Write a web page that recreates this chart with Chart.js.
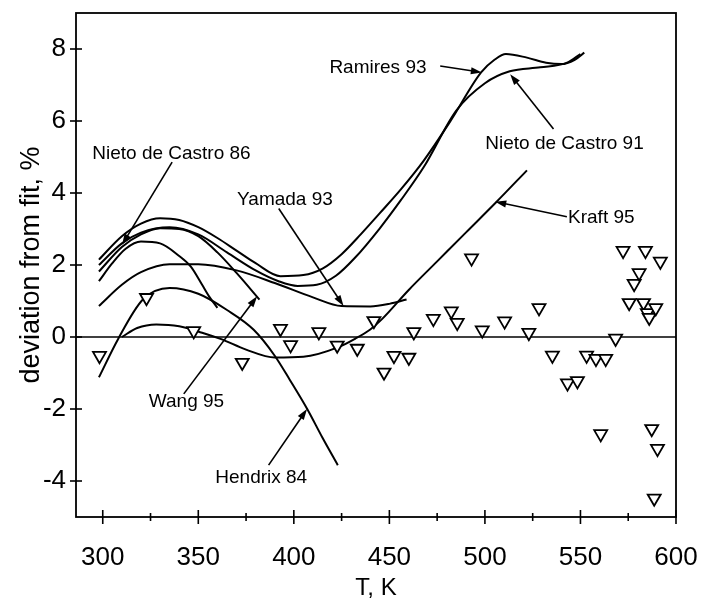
<!DOCTYPE html>
<html><head><meta charset="utf-8">
<script src="https://cdn.jsdelivr.net/npm/chart.js@4.4.1/dist/chart.umd.min.js"></script>
<style>html,body{margin:0;padding:0;background:#fff;}canvas{display:block;}</style>
</head><body>
<canvas id="c" width="702" height="601"></canvas>
<script>
// ---- data (T in K, deviation in %) ----
const xMajorTicks = [300, 350, 400, 450, 500, 550, 600];
const xMinorTicks = [325, 375, 425, 475, 525, 575];
const yTicks = [-4, -2, 0, 2, 4, 6, 8];

const ramiresT = [298, 310, 320, 330, 340, 350, 360, 370, 380, 393, 405, 415, 425, 435, 445, 456, 468, 482, 498, 505, 511, 522, 532, 540, 547, 552];
const ramiresY = [2.15, 2.8, 3.15, 3.3, 3.25, 3.05, 2.75, 2.4, 2.05, 1.69, 1.72, 1.9, 2.3, 2.85, 3.44, 4.1, 4.9, 6.0, 7.35, 7.7, 7.86, 7.76, 7.62, 7.58, 7.7, 7.9];

const nieto91T = [298, 310, 320, 335, 350, 365, 380, 392, 402, 412, 422, 432, 445, 456, 468, 485, 500, 513, 529, 543, 550];
const nieto91Y = [2.0, 2.6, 2.9, 3.05, 2.85, 2.35, 1.85, 1.55, 1.42, 1.45, 1.7, 2.2, 3.02, 3.8, 4.72, 6.29, 7.05, 7.38, 7.49, 7.62, 7.86];

const wang95T = [298, 310, 320, 330, 340, 350, 360, 370, 382];
const wang95Y = [1.82, 2.5, 2.85, 3.02, 3.0, 2.8, 2.35, 1.78, 1.04];

const nieto86T = [298, 305, 312, 320, 330, 340, 346, 352, 356, 360];
const nieto86Y = [1.55, 2.05, 2.45, 2.65, 2.6, 2.25, 1.96, 1.45, 1.1, 0.81];

const yamada93T = [298, 310, 320, 335, 350, 370, 390, 410, 425, 440, 450, 459];
const yamada93Y = [0.86, 1.45, 1.8, 2.02, 2.02, 1.85, 1.5, 1.1, 0.86, 0.85, 0.92, 1.04];

const hendrix84T = [298, 308, 321, 335, 350, 365, 379, 390, 398, 407, 415, 423];
const hendrix84Y = [-1.12, -0.06, 1.04, 1.36, 1.2, 0.75, 0.2, -0.52, -1.2, -2.0, -2.8, -3.56];

const kraft95T = [310, 318, 328, 340, 352, 362, 375, 390, 405, 423, 432, 440, 446, 460, 475, 490, 506, 522];
const kraft95Y = [0.0, 0.25, 0.35, 0.3, 0.12, -0.06, -0.35, -0.57, -0.55, -0.29, -0.05, 0.21, 0.49, 1.3, 2.1, 2.9, 3.75, 4.63];

const pointsT = [298.3, 322.9, 347.6, 373, 393, 398.3, 413.1, 422.7, 433.2, 441.9, 447.2, 452.4, 460.2, 462.8, 473, 482.4, 485.5, 493, 498.6, 510.3, 523, 528.3, 535.3, 543.2, 548.4, 553.2, 558.1, 560.6, 563.2, 568.4, 572.3, 575.5, 578.1, 580.7, 583, 584, 585, 586, 587.3, 588.6, 589.4, 590.3, 591.8];
const pointsY = [-0.52, 1.09, 0.17, -0.71, 0.23, -0.22, 0.14, -0.23, -0.32, 0.45, -0.98, -0.52, -0.57, 0.14, 0.51, 0.72, 0.4, 2.19, 0.19, 0.44, 0.12, 0.81, -0.51, -1.28, -1.22, -0.51, -0.6, -2.69, -0.6, -0.04, 2.4, 0.95, 1.48, 1.78, 0.95, 2.4, 0.67, 0.54, -2.55, -4.48, 0.81, -3.1, 2.1];

// labels with arrows: text anchor (left/middle), arrow tail, arrow tip — in data units
const labelText = ['Ramires 93', 'Nieto de Castro 91', 'Kraft 95', 'Nieto de Castro 86', 'Yamada 93', 'Wang 95', 'Hendrix 84'];
const labelAt = [[418.6, 7.49], [500.2, 5.37], [543.5, 3.30], [294.5, 5.09], [370.3, 3.82], [324.1, -1.80], [358.9, -3.91]];
const arrowFrom = [[476.6, 7.53], [535.9, 5.78], [542.9, 3.34], [336.3, 4.86], [392.1, 3.57], [342.4, -1.58], [386.8, -3.56]];
const arrowTo = [[498.4, 7.35], [513.2, 7.30], [505.4, 3.76], [310.1, 2.56], [426.0, 0.86], [380.8, 1.13], [406.9, -2.0]];

// ---- build ----
const zip = (xs, ys) => xs.map((x, i) => ({x: x, y: ys[i]}));
const curve = (label, xs, ys) => ({
  label: label, data: zip(xs, ys), showLine: true, borderColor: '#000', borderWidth: 2,
  pointRadius: 0, cubicInterpolationMode: 'monotone', fill: false, order: 2
});

const FONT = '"Liberation Sans", Arial, Helvetica, sans-serif';

const decor = {
  id: 'decor',
  beforeDatasetsDraw(chart) {
    const {ctx, chartArea: a, scales: {x, y}} = chart;
    ctx.save();
    ctx.strokeStyle = '#000';
    ctx.lineWidth = 1.6;
    const y0 = y.getPixelForValue(0);
    ctx.beginPath(); ctx.moveTo(a.left, y0); ctx.lineTo(a.right, y0); ctx.stroke();
    ctx.restore();
  },
  afterDatasetsDraw(chart) {
    const {ctx, chartArea: a, scales: {x, y}} = chart;
    ctx.save();
    ctx.strokeStyle = '#000';
    ctx.fillStyle = '#000';
    ctx.lineWidth = 1.8;
    ctx.strokeRect(a.left, a.top, a.right - a.left, a.bottom - a.top);
    ctx.lineWidth = 1.6;
    xMajorTicks.forEach(v => { const p = x.getPixelForValue(v); ctx.beginPath(); ctx.moveTo(p, a.bottom - 7); ctx.lineTo(p, a.bottom + 7); ctx.stroke(); });
    xMinorTicks.forEach(v => { const p = x.getPixelForValue(v); ctx.beginPath(); ctx.moveTo(p, a.bottom - 4); ctx.lineTo(p, a.bottom + 4); ctx.stroke(); });
    yTicks.forEach(v => { const p = y.getPixelForValue(v); ctx.beginPath(); ctx.moveTo(a.left - 6, p); ctx.lineTo(a.left + 6, p); ctx.stroke(); });
    ctx.font = '19px ' + FONT;
    ctx.textAlign = 'left';
    ctx.textBaseline = 'middle';
    labelText.forEach((t, i) => {
      ctx.fillText(t, x.getPixelForValue(labelAt[i][0]), y.getPixelForValue(labelAt[i][1]));
      const x1 = x.getPixelForValue(arrowFrom[i][0]), y1 = y.getPixelForValue(arrowFrom[i][1]);
      const x2 = x.getPixelForValue(arrowTo[i][0]), y2 = y.getPixelForValue(arrowTo[i][1]);
      const ang = Math.atan2(y2 - y1, x2 - x1);
      const L = 11, W = 3.6;
      ctx.lineWidth = 1.6;
      ctx.beginPath(); ctx.moveTo(x1, y1);
      ctx.lineTo(x2 - Math.cos(ang) * (L - 2), y2 - Math.sin(ang) * (L - 2)); ctx.stroke();
      ctx.beginPath();
      ctx.moveTo(x2, y2);
      ctx.lineTo(x2 - Math.cos(ang) * L - Math.sin(ang) * W, y2 - Math.sin(ang) * L + Math.cos(ang) * W);
      ctx.lineTo(x2 - Math.cos(ang) * L + Math.sin(ang) * W, y2 - Math.sin(ang) * L - Math.cos(ang) * W);
      ctx.closePath(); ctx.fill();
    });
    ctx.restore();
  }
};

const noPad = s => { s.paddingTop = 0; s.paddingBottom = 0; s.paddingLeft = 0; s.paddingRight = 0; };

new Chart(document.getElementById('c'), {
  type: 'scatter',
  data: {
    datasets: [
      {label: 'data', data: zip(pointsT, pointsY), pointStyle: 'triangle', rotation: 180,
       pointRadius: 7.5, pointHoverRadius: 7.5, borderColor: '#000', backgroundColor: '#fff', borderWidth: 1.8, showLine: false, order: 1},
      curve('Ramires 93', ramiresT, ramiresY),
      curve('Nieto de Castro 91', nieto91T, nieto91Y),
      curve('Wang 95', wang95T, wang95Y),
      curve('Nieto de Castro 86', nieto86T, nieto86Y),
      curve('Yamada 93', yamada93T, yamada93Y),
      curve('Hendrix 84', hendrix84T, hendrix84Y),
      curve('Kraft 95', kraft95T, kraft95Y)
    ]
  },
  options: {
    responsive: false, animation: false, devicePixelRatio: 1,
    layout: {padding: {top: 13, right: 26, left: 0, bottom: 0}},
    plugins: {legend: {display: false}, tooltip: {enabled: false}},
    scales: {
      x: {
        type: 'linear', min: 286, max: 600,
        afterBuildTicks(s) { s.ticks = xMajorTicks.map(v => ({value: v})); },
        afterFit(s) { s.height = 84; noPad(s); },
        grid: {display: false, drawTicks: false}, border: {display: false},
        ticks: {padding: 25, color: '#000', font: {family: FONT, size: 26}},
        title: {display: true, text: 'T, K', color: '#000', font: {family: FONT, size: 24, lineHeight: 1.0}, padding: {top: 0, bottom: 1}}
      },
      y: {
        type: 'linear', min: -5, max: 9,
        afterBuildTicks(s) { s.ticks = yTicks.map(v => ({value: v})); },
        afterFit(s) { s.width = 76; noPad(s); },
        grid: {display: false, drawTicks: false}, border: {display: false},
        ticks: {padding: 10, color: '#000', font: {family: FONT, size: 26}},
        title: {display: true, text: 'deviation from fit, %', color: '#000', font: {family: FONT, size: 27, lineHeight: 1.0}, padding: {top: 18, bottom: 0}}
      }
    }
  },
  plugins: [decor]
});
</script>
</body></html>
